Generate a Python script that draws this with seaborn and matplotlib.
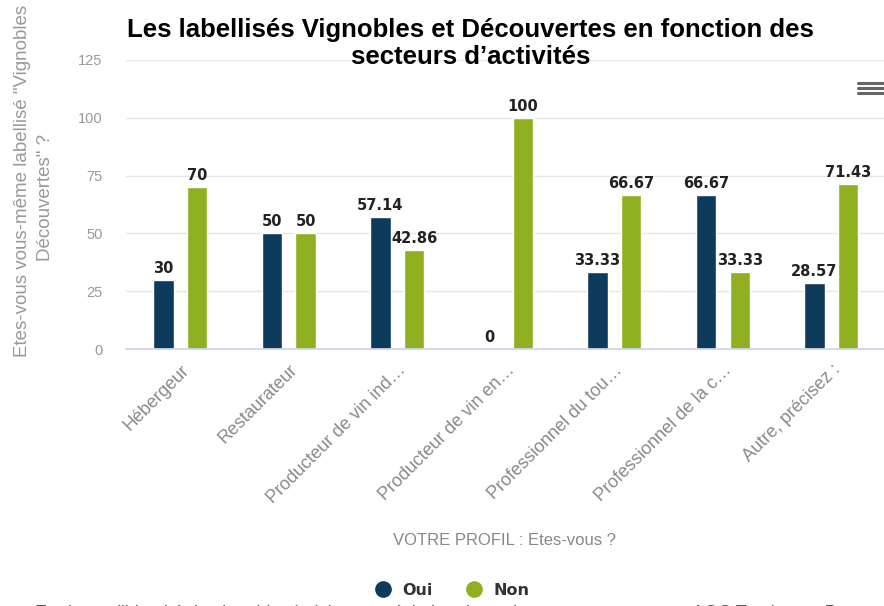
import matplotlib.pyplot as plt
import pandas as pd
import seaborn as sns
from matplotlib.lines import Line2D

categories = [
    "Hébergeur",
    "Restaurateur",
    "Producteur de vin ind…",
    "Producteur de vin en…",
    "Professionnel du tou…",
    "Professionnel de la c…",
    "Autre, précisez :",
]
oui = [30, 50, 57.14, 0, 33.33, 66.67, 28.57]
non = [70, 50, 42.86, 100, 66.67, 33.33, 71.43]
series = ["Oui", "Non"]
colors = {"Oui": "#0e3a5b", "Non": "#8fb021"}
y_ticks = [0, 25, 50, 75, 100, 125]

df = pd.DataFrame({
    "categorie": categories * 2,
    "reponse": ["Oui"] * len(categories) + ["Non"] * len(categories),
    "valeur": oui + non,
})

sns.set_theme(style="white")
plt.rcParams["font.family"] = ["Liberation Sans", "DejaVu Sans"]

fig = plt.figure(figsize=(8.84, 6.06), dpi=100)
ax = fig.add_axes([0.1425, 0.424, 0.863, 0.477])

sns.barplot(data=df, x="categorie", y="valeur", hue="reponse",
            hue_order=series, palette=colors, width=0.62, gap=0.4,
            ax=ax, legend=False, saturation=1)

for cont in ax.containers:
    vals = cont.datavalues
    ax.bar_label(cont, labels=[f"{v:g}" for v in vals], padding=3,
                 fontsize=10.5, fontweight="bold", color="#222222",
                 family="DejaVu Sans")

ax.set_ylim(0, 125)
ax.set_xlim(-0.5, 6.53)
ax.set_yticks(y_ticks)
ax.yaxis.grid(True, color="#e6e6e6", linewidth=1)
ax.set_axisbelow(True)
for s in ["top", "right", "left"]:
    ax.spines[s].set_visible(False)
ax.spines["bottom"].set_color("#ccd6eb")
ax.tick_params(axis="y", length=0, labelsize=10.5, labelcolor="#999999", pad=17)
ax.set_xticks(range(len(categories)))
ax.set_xticklabels(categories, rotation=45, ha="right", rotation_mode="anchor",
                   fontsize=13, color="#8a8a8a")
ax.tick_params(axis="x", length=0, pad=9)
ax.set_xticks([i + 0.5 for i in range(len(categories) - 1)], minor=True)
ax.tick_params(axis="x", which="minor", length=8, color="#ccd6eb", width=1)
ax.set_xlabel("")
ax.set_ylabel("")

# axis titles
fig.text(0.571, 0.108, "VOTRE PROFIL : Etes-vous ?", ha="center", va="center",
         fontsize=12, color="#888888")
fig.text(0.026, 1 - 357 / 606, "Etes-vous vous-même labellisé \"Vignobles &",
         rotation=90, rotation_mode="anchor", ha="left", va="center",
         fontsize=13.5, color="#999999")
fig.text(0.052, 1 - 197 / 606, "Découvertes\" ?",
         rotation=90, rotation_mode="anchor", ha="center", va="center",
         fontsize=13.5, color="#999999")

fig.text(0.532, 0.950, "Les labellisés Vignobles et Découvertes en fonction des",
         ha="center", va="center", fontsize=18.5, fontweight="bold", color="black")
fig.text(0.532, 0.906, "secteurs d’activités",
         ha="center", va="center", fontsize=18.5, fontweight="bold", color="black")

# export menu icon
for yy in (83, 88, 93):
    fig.add_artist(Line2D([858 / 884, 884 / 884], [1 - yy / 606] * 2,
                          color="#666666", linewidth=2.2))

handles = [Line2D([0], [0], marker="o", linestyle="", markersize=11,
                  markerfacecolor=colors[s], markeredgecolor=colors[s]) for s in series]
fig.legend(handles, series, loc="center", bbox_to_anchor=(0.507, 0.026), ncol=2,
           frameon=False, handletextpad=0.2, columnspacing=1.6,
           prop={"weight": "bold", "size": 11.5, "family": "DejaVu Sans"},
           labelcolor="#333333")

fig.text(0.04, -0.012,
         "Etude sur l'identité du vignoble choisi et appréciation des valeurs communes avec AOC Tourisme - Par",
         ha="left", va="center", fontsize=13, color="#555555")

fig.savefig("out.png", dpi=100)
